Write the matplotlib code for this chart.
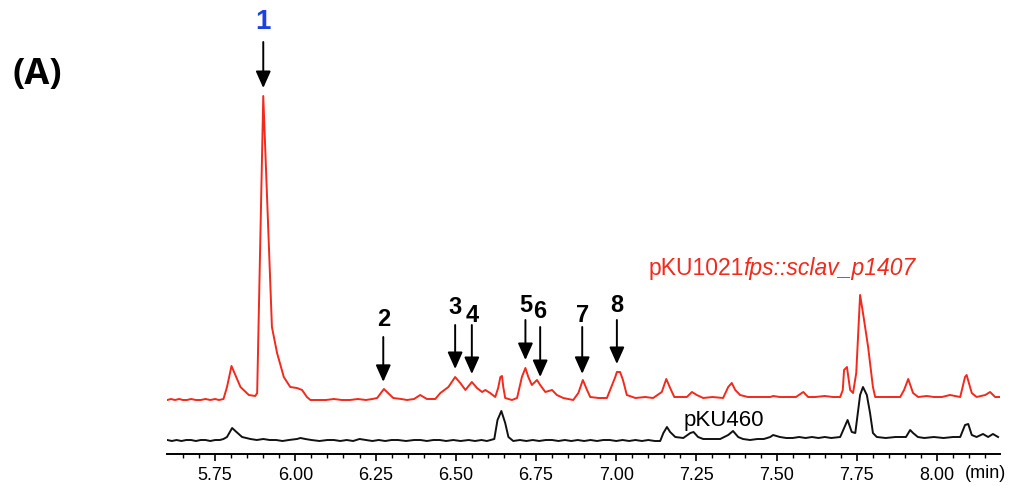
import numpy as np
import matplotlib.pyplot as plt

# retention time (min), detector response -- sclav_p1407 expression strain
red_trace = [
    (5.601, 0), (5.612, 1), (5.625, 0), (5.638, 1), (5.650, 0), (5.662, 0),
    (5.675, 1), (5.690, 0), (5.705, 0), (5.720, 1), (5.735, 0), (5.750, 1),
    (5.762, 0), (5.776, 1), (5.787, 13), (5.801, 34), (5.813, 25), (5.829, 13),
    (5.855, 5), (5.875, 4), (5.881, 7), (5.900, 304), (5.927, 73), (5.943, 47),
    (5.964, 23), (5.984, 13), (6.005, 12), (6.021, 10), (6.036, 3), (6.047, 0),
    (6.070, 0), (6.095, 0), (6.120, 1), (6.145, 0), (6.170, 0), (6.195, 1),
    (6.220, 0), (6.240, 1), (6.255, 2), (6.276, 11), (6.305, 2), (6.330, 1),
    (6.348, 0), (6.370, 1), (6.389, 5), (6.410, 1), (6.436, 1), (6.452, 7),
    (6.477, 13), (6.498, 23), (6.514, 17), (6.530, 10), (6.550, 18), (6.566, 12),
    (6.582, 8), (6.592, 10), (6.607, 7), (6.623, 3), (6.632, 12), (6.639, 23),
    (6.644, 24), (6.648, 13), (6.654, 2), (6.675, 0), (6.691, 2), (6.706, 23),
    (6.717, 32), (6.726, 23), (6.737, 15), (6.753, 20), (6.763, 15), (6.779, 8),
    (6.800, 10), (6.815, 5), (6.835, 2), (6.866, 0), (6.882, 7), (6.896, 20),
    (6.909, 10), (6.919, 3), (6.945, 2), (6.971, 2), (6.997, 23), (7.002, 28),
    (7.012, 28), (7.021, 20), (7.033, 5), (7.060, 2), (7.090, 3), (7.115, 2),
    (7.142, 8), (7.156, 21), (7.168, 12), (7.181, 3), (7.200, 3), (7.220, 3),
    (7.236, 8), (7.251, 5), (7.271, 2), (7.300, 3), (7.333, 2), (7.349, 13),
    (7.360, 17), (7.371, 10), (7.386, 5), (7.410, 3), (7.440, 3), (7.480, 3),
    (7.489, 4), (7.510, 3), (7.542, 3), (7.560, 3), (7.583, 8), (7.598, 3),
    (7.620, 3), (7.650, 4), (7.675, 3), (7.698, 3), (7.706, 10), (7.710, 30),
    (7.719, 33), (7.729, 10), (7.738, 7), (7.748, 27), (7.760, 105), (7.769, 87),
    (7.785, 53), (7.800, 13), (7.807, 3), (7.830, 3), (7.860, 3), (7.885, 3),
    (7.897, 10), (7.910, 21), (7.925, 7), (7.941, 3), (7.968, 4), (7.990, 3),
    (8.015, 3), (8.040, 5), (8.072, 3), (8.087, 23), (8.092, 25), (8.108, 7),
    (8.123, 3), (8.150, 5), (8.165, 8), (8.181, 3), (8.196, 3),
]

# empty vector control
black_trace = [
    (5.601, 1), (5.615, 0), (5.630, 1), (5.645, 0), (5.660, 1), (5.675, 1),
    (5.690, 0), (5.705, 1), (5.720, 1), (5.735, 0), (5.750, 1), (5.765, 1),
    (5.776, 2), (5.787, 4), (5.803, 13), (5.813, 10), (5.834, 4), (5.860, 2),
    (5.880, 1), (5.900, 2), (5.920, 1), (5.940, 1), (5.960, 0), (5.980, 1),
    (6.005, 2), (6.016, 3), (6.031, 2), (6.050, 1), (6.075, 0), (6.100, 1),
    (6.120, 1), (6.140, 0), (6.160, 1), (6.180, 0), (6.200, 2), (6.220, 1),
    (6.240, 0), (6.260, 1), (6.280, 0), (6.300, 1), (6.320, 1), (6.345, 0),
    (6.370, 1), (6.390, 1), (6.410, 0), (6.430, 1), (6.450, 1), (6.470, 0),
    (6.492, 1), (6.515, 0), (6.540, 1), (6.560, 0), (6.580, 1), (6.597, 0),
    (6.620, 2), (6.630, 21), (6.642, 30), (6.654, 18), (6.664, 4), (6.679, 0),
    (6.700, 1), (6.720, 0), (6.740, 1), (6.760, 0), (6.780, 1), (6.800, 1),
    (6.820, 0), (6.840, 1), (6.860, 0), (6.880, 1), (6.900, 0), (6.920, 1),
    (6.940, 0), (6.960, 1), (6.980, 1), (7.000, 0), (7.020, 1), (7.040, 0),
    (7.060, 1), (7.080, 0), (7.100, 1), (7.120, 0), (7.137, 0), (7.147, 8),
    (7.158, 14), (7.168, 9), (7.184, 4), (7.209, 3), (7.231, 8), (7.241, 9),
    (7.255, 4), (7.271, 2), (7.295, 2), (7.324, 2), (7.349, 6), (7.364, 10),
    (7.380, 4), (7.395, 2), (7.417, 1), (7.440, 2), (7.460, 2), (7.480, 4),
    (7.489, 6), (7.510, 4), (7.530, 3), (7.550, 3), (7.570, 4), (7.590, 3),
    (7.610, 4), (7.630, 3), (7.650, 4), (7.670, 3), (7.698, 4), (7.721, 21),
    (7.734, 9), (7.745, 8), (7.760, 46), (7.769, 54), (7.781, 46), (7.791, 28),
    (7.800, 8), (7.812, 4), (7.840, 3), (7.870, 4), (7.903, 4), (7.916, 11),
    (7.925, 8), (7.940, 4), (7.960, 3), (7.990, 4), (8.020, 3), (8.050, 4),
    (8.072, 4), (8.087, 16), (8.097, 17), (8.108, 6), (8.123, 4), (8.143, 7),
    (8.159, 4), (8.174, 7), (8.190, 4),
]

peak_labels = ['1', '2', '3', '4', '5', '6', '7', '8']
peak_times = [5.900, 6.274, 6.498, 6.550, 6.717, 6.763, 6.894, 7.002]

tick_values = [5.75, 6.00, 6.25, 6.50, 6.75, 7.00, 7.25, 7.50, 7.75, 8.00]

# layout: vertical offsets of the stacked traces, arrow tails and label heights
red_base = 54
black_base = 13
arrow_tail = [412, 117, 129, 129, 134, 127, 127, 134]
label_y = [432, 134, 146, 139, 149, 142, 138, 149]

RED = '#f2291c'
BLUE = '#1d3fe6'
plt.rcParams['font.family'] = ['Liberation Sans', 'DejaVu Sans']

fig = plt.figure(figsize=(10.14, 4.86), dpi=100)
ax = fig.add_axes([167 / 1014, 32 / 486, 833 / 1014, 454 / 486])

rt, ri = np.array(red_trace).T
bt, bi = np.array(black_trace).T
ax.plot(rt, ri + red_base, color=RED, lw=1.4, solid_joinstyle='round')
ax.plot(bt, bi + black_base, color='#111111', lw=1.4, solid_joinstyle='round')

ax.set_xlim(5.60, 8.196)
ax.set_ylim(0, 454)

for i, (lab, t) in enumerate(zip(peak_labels, peak_times)):
    tip = red_base + np.interp(t, rt, ri) + 8
    ax.annotate('', xy=(t, tip), xytext=(t, arrow_tail[i]),
                arrowprops=dict(arrowstyle='-|>,head_width=0.38,head_length=0.85',
                                mutation_scale=12, color='black', lw=1.4,
                                shrinkA=0, shrinkB=0))
    if lab == '1':
        ax.text(t, label_y[i], lab, ha='center', va='center', fontsize=20,
                fontweight='bold', color=BLUE)
    else:
        ax.text(t, label_y[i], lab, ha='center', va='center', fontsize=17,
                fontweight='bold', color='black')

# trace names
name = ax.text(7.100, 186, 'pKU1021', color=RED, fontsize=16.5,
               ha='left', va='center')
ax.annotate('fps::sclav_p1407', xy=(1, 0), xycoords=name, va='bottom',
            ha='left', color=RED, fontsize=16.5, style='italic')
ax.text(7.209, 34, 'pKU460', color='black', fontsize=16, ha='left', va='center')

for side in ['left', 'right', 'top']:
    ax.spines[side].set_visible(False)
ax.spines['bottom'].set_linewidth(1.4)
ax.set_yticks([])
ax.set_xticks(tick_values)
ax.set_xticklabels(['{:.2f}'.format(v) for v in tick_values])
ax.set_xticks(np.arange(5.65, 8.19, 0.05), minor=True)
ax.tick_params(axis='x', which='major', direction='out', length=5, width=1.2,
               labelsize=13, pad=4)
ax.tick_params(axis='x', which='minor', direction='out', length=3, width=1.0)
ax.annotate('(min)', xy=(8.0, 0), xycoords=('data', 'axes fraction'),
            xytext=(20, -7.6), textcoords='offset points',
            ha='left', va='top', fontsize=13)

fig.text(12 / 1014, 1 - 75 / 486, '(A)', fontsize=26, fontweight='bold',
         family=['Open Sans', 'DejaVu Sans'], ha='left', va='center')

fig.savefig('out.png', dpi=100)
